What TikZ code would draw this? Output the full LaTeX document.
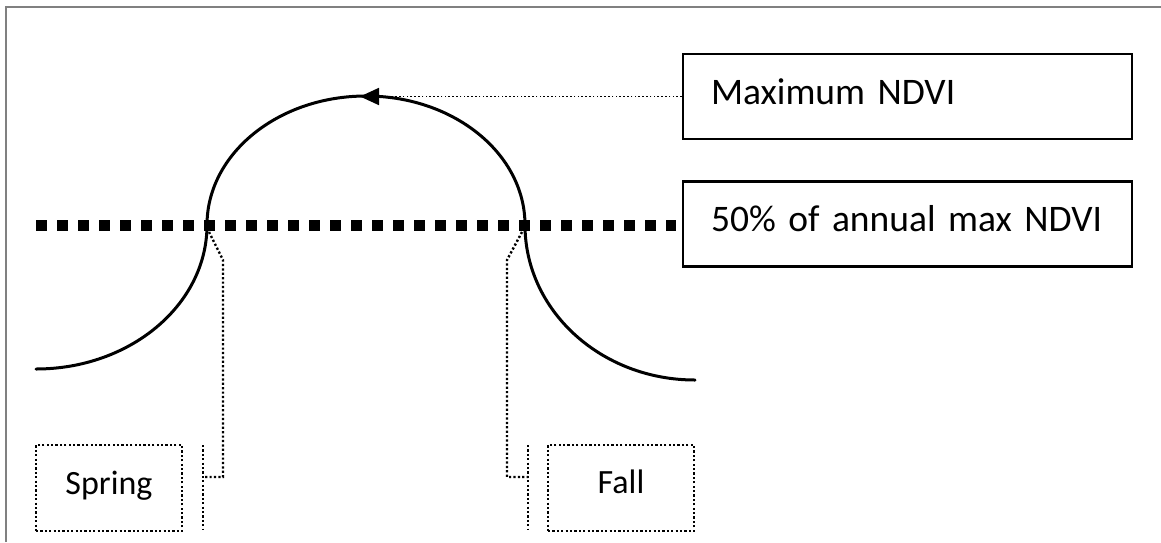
\documentclass[tikz,border=0pt]{standalone}
\usepackage{fontspec}
\setmainfont{Carlito}
\usetikzlibrary{arrows.meta}
\tikzset{
  frameline/.style={draw=black!50, line width=1.8pt},
  curveline/.style={line width=3pt, line cap=round},
  halfline/.style={line width=11pt, dash pattern=on 11pt off 10pt},
  dotline/.style={line width=2.4pt, dash pattern=on 2.2pt off 2.2pt},
  thindot/.style={line width=1.8pt, dash pattern=on 1.6pt off 2.2pt},
  infobox/.style={draw, line width=2.6pt, inner xsep=28pt, inner ysep=0pt,
    text width=393pt, align=left, minimum height=85pt,
    font=\fontsize{37.5}{45}\selectfont},
  seasonbox/.style={draw, dotline, inner sep=0pt, minimum width=146pt,
    minimum height=86pt, font=\fontsize{34}{40}\selectfont},
}
\begin{document}
\begin{tikzpicture}[x=1pt, y=-1pt]
\useasboundingbox (0,0) rectangle (1161,542);
% frame edges
\draw[frameline] (6,542) -- (6,7) -- (1161,7);

% seasonal NDVI curve
\draw[curveline] (36,369) arc[start angle=90, end angle=0, x radius=171, y radius=144]
  arc[start angle=180, end angle=360, x radius=159, y radius=129]
  arc[start angle=180, end angle=90, x radius=170, y radius=155];

% 50% threshold
\draw[halfline] (36,225) -- (676,225);

% labels
\node[infobox, text height=20pt, text depth=5pt] (maxbox) at (907.5,96.5) {Maximum NDVI};
\node[infobox, text height=20pt, text depth=6pt] (halfbox) at (907.5,224) {50\% of annual max NDVI};
\node[seasonbox, text height=18pt, text depth=6pt] (spring) at (109,488) {Spring};
\node[seasonbox, text height=17pt, text depth=7pt] (fall) at (621,488) {Fall};

% peak pointer
\coordinate (peak) at (360,96.5);
\draw[thindot, -{Triangle[length=19pt, width=17pt]}] (maxbox.west) -- (peak);

% spring crossing connector
\coordinate (sx) at (209,232);
\coordinate (sa) at (223,260);
\coordinate (sb) at (223,477);
\coordinate (sc) at (203,477);
\coordinate (st) at (203,445);
\coordinate (sd) at (203,530);
\draw[dotline] (sx) -- (sa) -- (sb) -- (sc);
\draw[dotline] (st) -- (sd);

% fall crossing connector
\coordinate (fx) at (522,232);
\coordinate (fa) at (507,260);
\coordinate (fb) at (507,477);
\coordinate (fc) at (528,477);
\coordinate (ft) at (528,445);
\coordinate (fd) at (528,530);
\draw[dotline] (fx) -- (fa) -- (fb) -- (fc);
\draw[dotline] (ft) -- (fd);
\end{tikzpicture}
\end{document}
